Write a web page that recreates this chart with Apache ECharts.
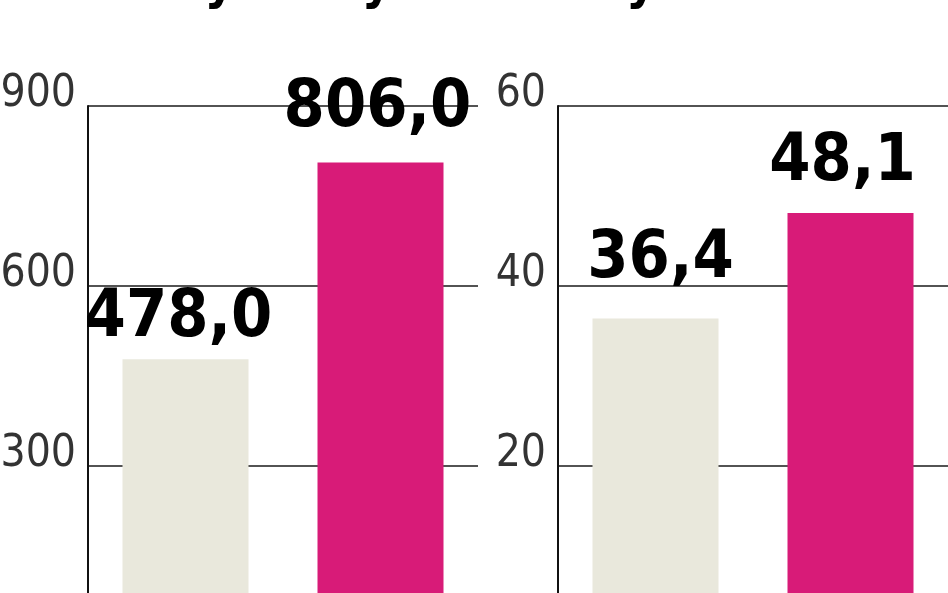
<!DOCTYPE html>
<html>
<head>
<meta charset="utf-8">
<script src="https://cdn.jsdelivr.net/npm/echarts@6/dist/echarts.min.js"></script>
<style>
html,body{margin:0;padding:0;background:#fff;}
#chart{width:948px;height:593px;}
</style>
</head>
<body>
<div id="chart"></div>
<script>
// ---- data ----
const categories = ['poprzedni', 'bieżący'];
const titles = ['Przychody', 'Zysk netto'];
const revenue = [478.0, 806.0];
const netProfit = [36.4, 48.1];
const revenueTicks = { min: 0, max: 900, interval: 300 };
const profitTicks = { min: 0, max: 60, interval: 20 };

// ---- styles ----
const barColors = ['#e9e8dc', '#d81b78'];
// per-panel, per-bar label placement tweaks (distance above bar, horizontal offset)
const labelPlacement = [
  [{ distance: 7, dx: -7 }, { distance: 21, dx: -3 }],
  [{ distance: 26, dx: 5 }, { distance: 17, dx: -8 }]
];
const FONT = '"Liberation Sans Narrow", "DejaVu Sans Condensed", "Roboto Condensed", "Open Sans", sans-serif';
const fmt = v => v.toFixed(1).replace('.', ',');

const chart = echarts.init(document.getElementById('chart'));

function yAxis(gridIndex, ticks) {
  return {
    type: 'value', gridIndex,
    min: ticks.min, max: ticks.max, interval: ticks.interval,
    axisLine: { show: true, lineStyle: { color: '#111', width: 2 } },
    axisTick: { show: false },
    splitLine: { show: true, lineStyle: { color: '#1a1a1a', width: 1.5 } },
    axisLabel: {
      fontFamily: FONT, fontSize: 44, color: '#333', showMinLabel: false,
      margin: 12, verticalAlign: 'bottom', lineHeight: 22
    }
  };
}
function xAxis(gridIndex) {
  return {
    type: 'category', gridIndex, data: categories,
    axisLine: { show: false }, axisTick: { show: false }, axisLabel: { show: false }
  };
}
function barSeries(idx, values) {
  return {
    type: 'bar', xAxisIndex: idx, yAxisIndex: idx, barWidth: 126,
    data: values.map((v, i) => ({
      value: v,
      itemStyle: { color: barColors[i] },
      label: { distance: labelPlacement[idx][i].distance, offset: [labelPlacement[idx][i].dx, 0] }
    })),
    label: {
      show: true, position: 'top', distance: 16,
      formatter: p => fmt(p.value),
      fontFamily: FONT, fontWeight: 'bold', fontSize: 66, color: '#000'
    },
    animation: false
  };
}

chart.setOption({
  backgroundColor: '#fff',
  animation: false,
  grid: [
    { left: 88, top: 106, width: 390, height: 540, outerBoundsMode: 'none', containLabel: false },
    { left: 558, top: 106, width: 390, height: 540, outerBoundsMode: 'none', containLabel: false }
  ],
  xAxis: [xAxis(0), xAxis(1)],
  yAxis: [yAxis(0, revenueTicks), yAxis(1, profitTicks)],
  series: [barSeries(0, revenue), barSeries(1, netProfit)],
  graphic: [
    { type: 'text', left: 120, top: -42, style: { text: titles[0], fontFamily: FONT, fontWeight: 'bold', fontSize: 52, fill: '#000' } },
    { type: 'text', left: 592, top: -42, style: { text: titles[1], fontFamily: FONT, fontWeight: 'bold', fontSize: 52, fill: '#000' } }
  ]
});
</script>
</body>
</html>
